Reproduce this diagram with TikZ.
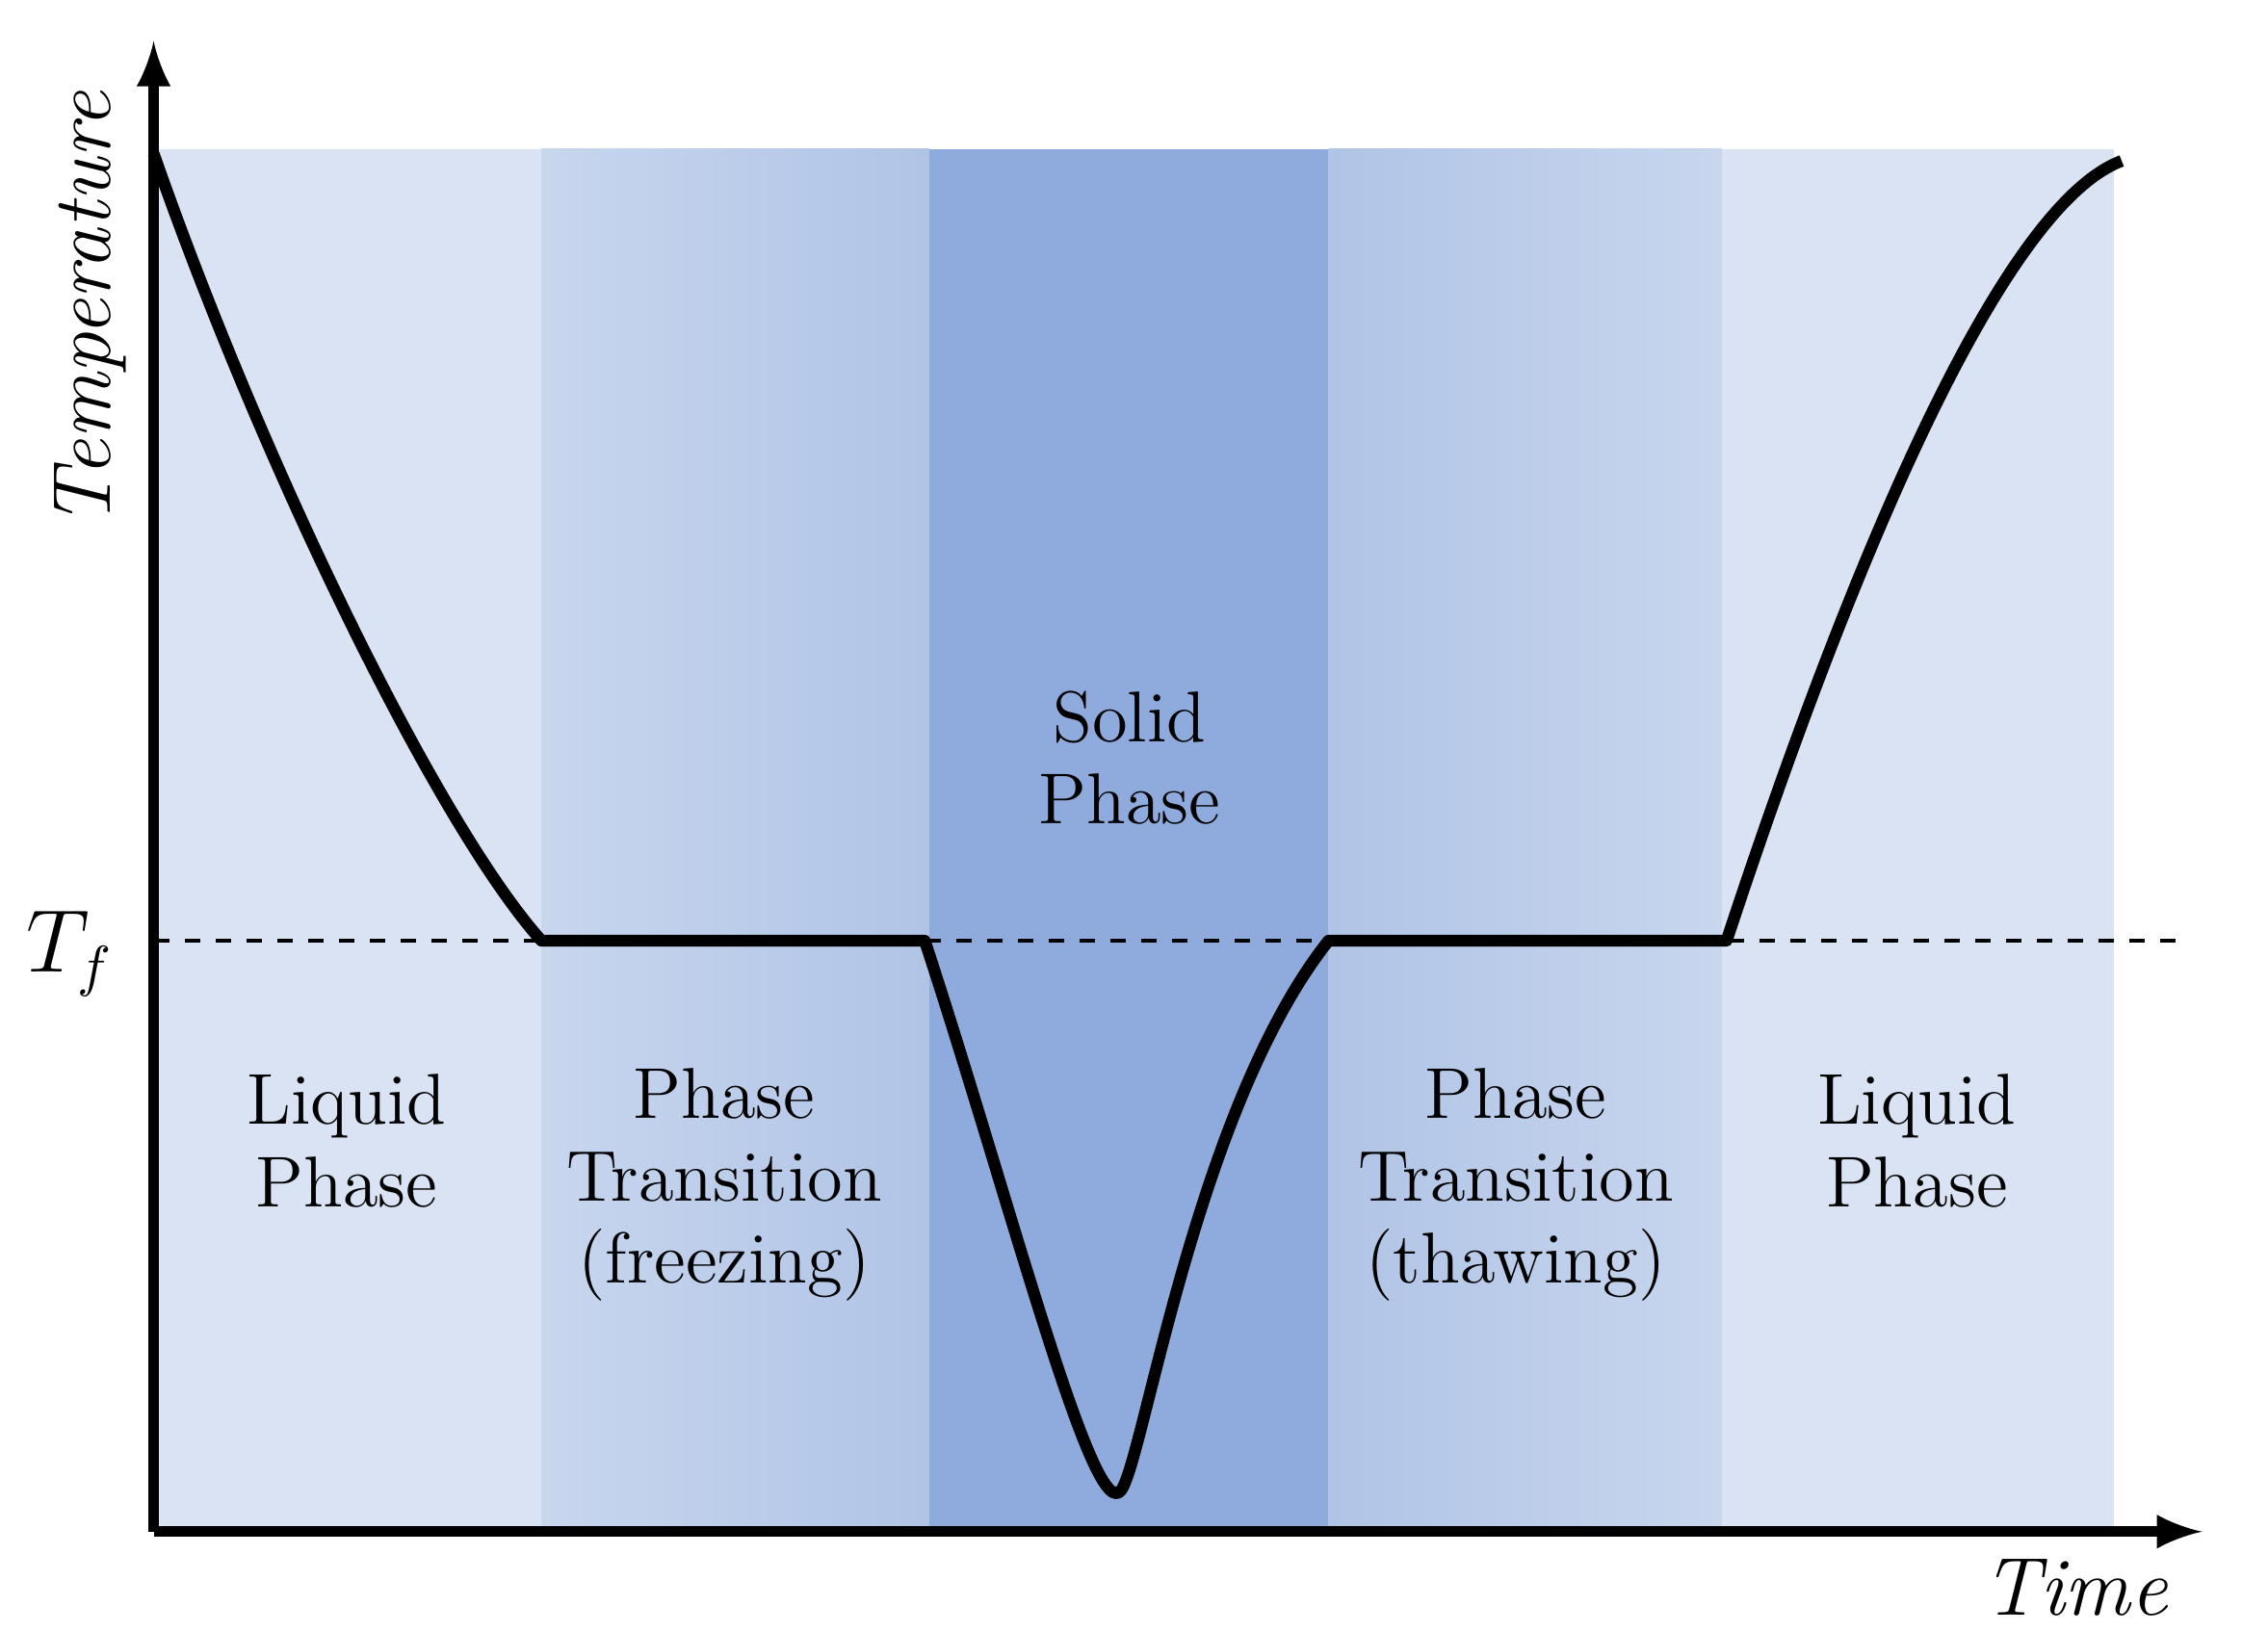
\documentclass[tikz,border=0pt]{standalone}
\usetikzlibrary{positioning}
\definecolor{liquidc}{HTML}{DAE3F3}
\definecolor{transc}{HTML}{C8D6EE}
\definecolor{transd}{HTML}{B0C4E6}
\definecolor{solidc}{HTML}{8FAADC}
\tikzset{
  phase/.style={align=center,font=\fontsize{14}{16}\selectfont},
  axis/.style={line width=2pt,-latex},
  curve/.style={line width=2.3pt,line join=round}
}
\begin{document}
\begin{tikzpicture}[x=0.01cm,y=-0.01cm]
\useasboundingbox (0,0) rectangle (1550,1115.6);
% phase bands
\fill[liquidc] (105,102) rectangle (370,1047);
\shade[left color=transc,right color=transd] (370,102) rectangle (635,1047);
\fill[solidc] (635,102) rectangle (908,1047);
\shade[left color=transd,right color=transc] (908,102) rectangle (1177,1047);
\fill[liquidc] (1177,102) rectangle (1445,1047);
% axes
\coordinate (O) at (105,1047);
\coordinate (ytip) at (105,28);
\coordinate (xtip) at (1505,1047);
\draw[axis] (O) -- (ytip);
\draw[axis] (O) -- (xtip);
\coordinate (tfl) at (105,643);
\coordinate (tfr) at (1495,643);
\draw[dashed,thick] (tfl) -- (tfr);
% temperature curve
\coordinate (s) at (105,105);
\coordinate (f1) at (370,643);
\coordinate (f2) at (632,643);
\coordinate (m) at (765,1020);
\coordinate (t1) at (908,643);
\coordinate (t2) at (1180,643);
\coordinate (e) at (1450,110);
\draw[curve] (s) .. controls (180,320) and (300,565) .. (f1) -- (f2)
  .. controls (690,820) and (745,1035) .. (m)
  .. controls (780,1010) and (815,760) .. (t1) -- (t2)
  .. controls (1270,370) and (1370,140) .. (e);
% labels
\node[phase] (liq1) at (237,780) {Liquid\\Phase};
\node[phase] (tr1) at (495,810) {Phase\\Transition\\(freezing)};
\node[phase] (sol) at (772,518) {Solid\\Phase};
\node[phase] (tr2) at (1036,810) {Phase\\Transition\\(thawing)};
\node[phase] (liq2) at (1310,780) {Liquid\\Phase};
\node[font=\fontsize{16}{19}\selectfont] (tf) at (48,652) {$T_f$};
\node[font=\fontsize{16}{19}\selectfont\itshape,rotate=90] (temp) at (62,212) {Temperature};
\node[font=\fontsize{16}{19}\selectfont\itshape] (time) at (1418,1085) {Time};
\end{tikzpicture}
\end{document}
